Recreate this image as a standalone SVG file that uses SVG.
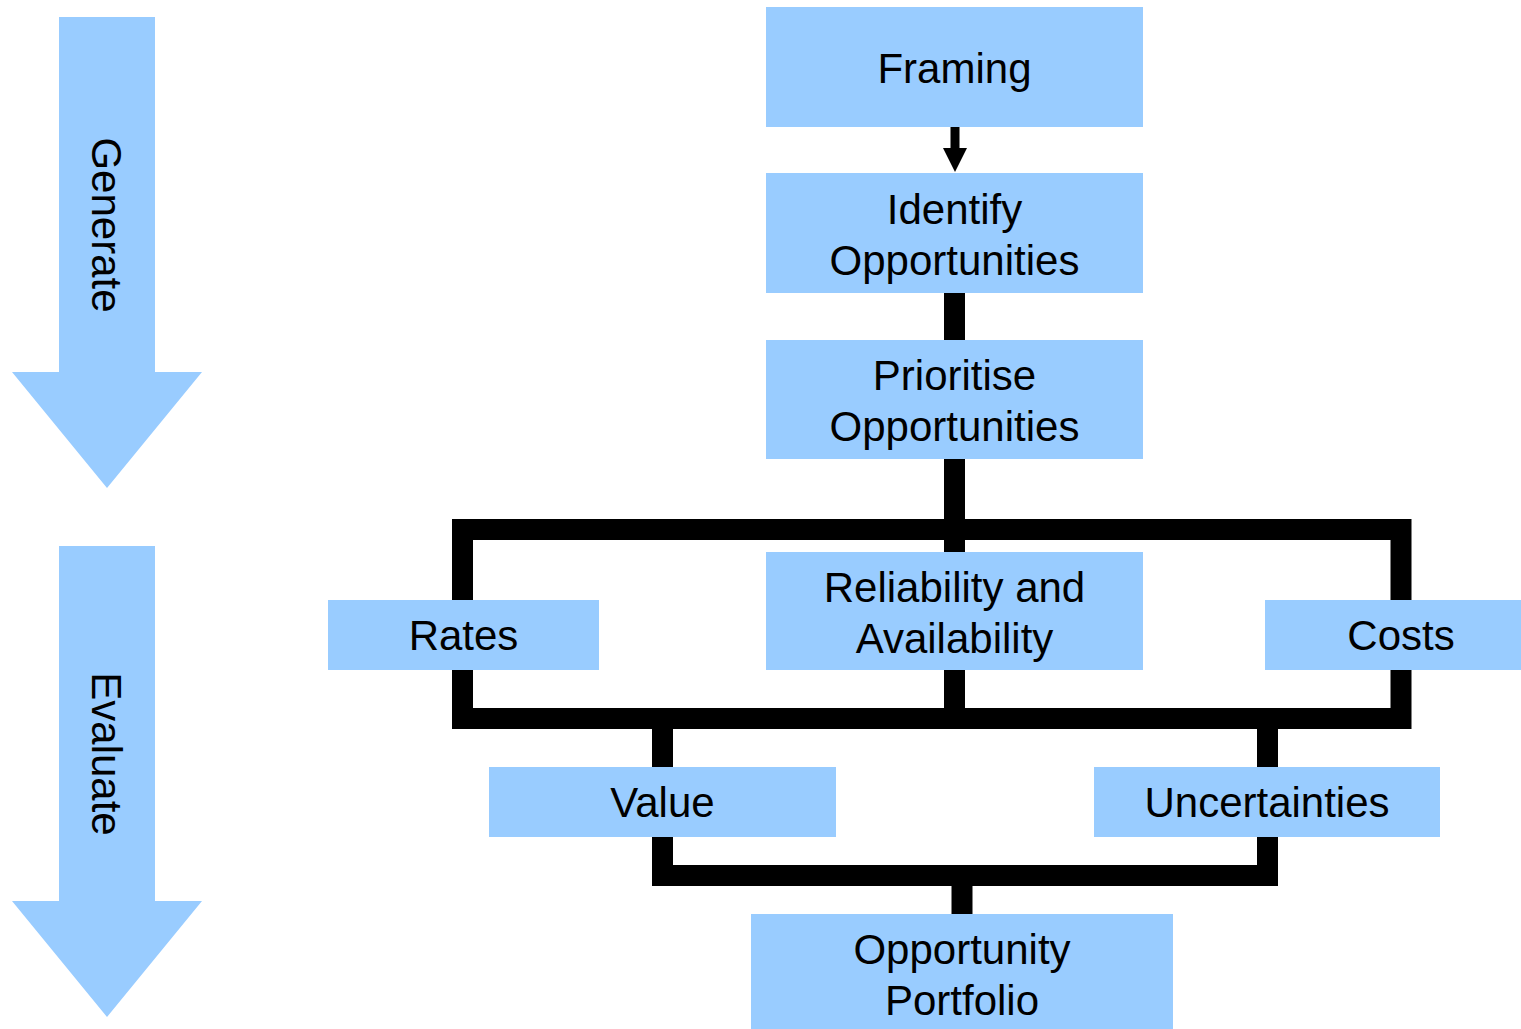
<svg xmlns="http://www.w3.org/2000/svg" width="1521" height="1029" viewBox="0 0 1521 1029">
<style>
.box{fill:#99CCFF;}
.bigarrow{fill:#99CCFF;}
.lbl{font-family:"Liberation Sans",Arial,sans-serif;font-size:42px;fill:#000;text-anchor:middle;}
.conn{fill:none;stroke:#000;stroke-width:21;stroke-linejoin:miter;stroke-linecap:butt;}
</style>
<rect width="1521" height="1029" fill="#fff"/>
<g id="generate-arrow">
<polygon class="bigarrow" points="59,17 155,17 155,372 202,372 107,488 12,372 59,372"/>
<text class="lbl" transform="translate(107,225) rotate(90)" x="0" y="15">Generate</text>
</g>
<g id="evaluate-arrow">
<polygon class="bigarrow" points="59,546 155,546 155,901 202,901 107,1017 12,901 59,901"/>
<text class="lbl" transform="translate(107,754) rotate(90)" x="0" y="15">Evaluate</text>
</g>
<g id="connectors">
<line x1="955" y1="127" x2="955" y2="149" stroke="#000" stroke-width="9"/>
<polygon points="943,148 967,148 955,172" fill="#000"/>
<line class="conn" x1="954.5" y1="293" x2="954.5" y2="340"/>
<line class="conn" x1="954.5" y1="459" x2="954.5" y2="729"/>
<rect class="conn" x="462.5" y="529.5" width="938.5" height="189"/>
<path class="conn" d="M662.5,718 V875.5 H1267.5 V718"/>
<line class="conn" x1="962" y1="875" x2="962" y2="914"/>
</g>
<g id="framing"><rect class="box" x="766" y="7" width="377" height="120"/><text class="lbl" x="954.5" y="83">Framing</text></g>
<g id="identify"><rect class="box" x="766" y="173" width="377" height="120"/><text class="lbl" x="954.5" y="224">Identify</text><text class="lbl" x="954.5" y="275">Opportunities</text></g>
<g id="prioritise"><rect class="box" x="766" y="340" width="377" height="119"/><text class="lbl" x="954.5" y="390">Prioritise</text><text class="lbl" x="954.5" y="441">Opportunities</text></g>
<g id="reliability"><rect class="box" x="766" y="552" width="377" height="118"/><text class="lbl" x="954.5" y="602">Reliability and</text><text class="lbl" x="954.5" y="653">Availability</text></g>
<g id="rates"><rect class="box" x="328" y="600" width="271" height="70"/><text class="lbl" x="463.5" y="650">Rates</text></g>
<g id="costs"><rect class="box" x="1265" y="600" width="272" height="70"/><text class="lbl" x="1401" y="650">Costs</text></g>
<g id="value"><rect class="box" x="489" y="767" width="347" height="70"/><text class="lbl" x="662.5" y="817">Value</text></g>
<g id="uncertainties"><rect class="box" x="1094" y="767" width="346" height="70"/><text class="lbl" x="1267" y="817">Uncertainties</text></g>
<g id="portfolio"><rect class="box" x="751" y="914" width="422" height="120"/><text class="lbl" x="962" y="964">Opportunity</text><text class="lbl" x="962" y="1015">Portfolio</text></g>
</svg>
